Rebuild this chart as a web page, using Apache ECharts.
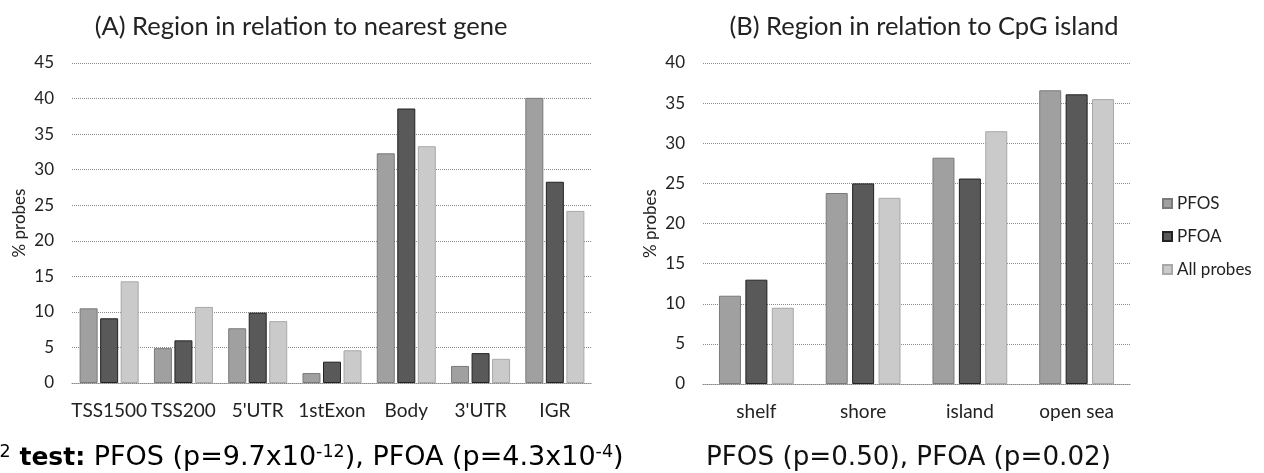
<!DOCTYPE html>
<html>
<head>
<meta charset="utf-8">
<script src="https://cdn.jsdelivr.net/npm/echarts@6/dist/echarts.min.js"></script>
<style>
html,body{margin:0;padding:0;background:#fff;}
#c{width:1264px;height:473px;}
</style>
</head>
<body>
<div id="c"></div>
<script>
// ---- data ----
const seriesNames = ['PFOS', 'PFOA', 'All probes'];

const geneCategories = ['TSS1500', 'TSS200', "5'UTR", '1stExon', 'Body', "3'UTR", 'IGR'];
const genePFOS = [10.5, 4.9, 7.7, 1.4, 32.3, 2.4, 40.1];
const genePFOA = [9.1, 6.0, 9.9, 3.0, 38.6, 4.2, 28.3];
const geneAll  = [14.3, 10.7, 8.7, 4.6, 33.3, 3.4, 24.2];

const cpgCategories = ['shelf', 'shore', 'island', 'open sea'];
const cpgPFOS = [11.0, 23.8, 28.2, 36.6];
const cpgPFOA = [13.0, 25.0, 25.6, 36.1];
const cpgAll  = [9.5, 23.2, 31.5, 35.5];

const titleA = '(A) Region in relation to nearest gene';
const titleB = '(B) Region in relation to CpG island';
const yName = '% probes';

// ---- styling ----
const FONT = 'Lato';
const colors = ['#a0a0a0', '#595959', '#cacaca'];
const borders = ['#7a7a7a', '#222222', '#a8a8a8'];

function makeSeries(name, idx, data, axisIdx, barWidth, gap) {
  return {
    name: name,
    type: 'bar',
    xAxisIndex: axisIdx,
    yAxisIndex: axisIdx,
    data: data,
    barWidth: barWidth,
    barGap: gap,
    itemStyle: { color: colors[idx], borderColor: borders[idx], borderWidth: 1 },
    emphasis: { disabled: true },
    animation: false
  };
}

function yAxisDef(gridIndex, max) {
  return {
    gridIndex: gridIndex,
    type: 'value',
    min: 0, max: max, interval: 5,
    name: yName,
    nameLocation: 'middle',
    nameGap: 44,
    nameTextStyle: { fontFamily: FONT, fontSize: 17, color: '#222' },
    axisLine: { show: false },
    axisTick: { show: false },
    axisLabel: { fontFamily: FONT, fontSize: 17, color: '#222', margin: 18 },
    splitLine: { lineStyle: { type: 'dotted', color: '#8a8a8a', width: 1 } }
  };
}

function xAxisDef(gridIndex, cats) {
  return {
    gridIndex: gridIndex,
    type: 'category',
    data: cats,
    axisTick: { show: false },
    axisLine: { lineStyle: { color: '#8a8a8a', type: 'dotted' } },
    axisLabel: { fontFamily: FONT, fontSize: 19, color: '#222', margin: 18, interval: 0 }
  };
}

const chart = echarts.init(document.getElementById('c'), null, { renderer: 'canvas' });

const option = {
  backgroundColor: '#ffffff',
  animation: false,
  title: [
    { text: titleA, left: 296, top: 9, textAlign: 'center',
      textStyle: { fontFamily: FONT, fontSize: 25.5, fontWeight: 'normal', color: '#222' } },
    { text: titleB, left: 919, top: 9, textAlign: 'center',
      textStyle: { fontFamily: FONT, fontSize: 25.5, fontWeight: 'normal', color: '#222' } }
  ],
  legend: {
    data: seriesNames,
    orient: 'vertical',
    left: 1157,
    top: 190,
    itemWidth: 9,
    itemHeight: 9,
    itemGap: 16,
    icon: 'rect',
    textStyle: { fontFamily: FONT, fontSize: 17, color: '#222' },
    selectedMode: false
  },
  grid: [
    { left: 72, right: 672, top: 63, bottom: 90 },
    { left: 703, right: 134, top: 63, bottom: 89 }
  ],
  xAxis: [xAxisDef(0, geneCategories), xAxisDef(1, cpgCategories)],
  yAxis: [yAxisDef(0, 45), yAxisDef(1, 40)],
  series: [
    makeSeries(seriesNames[0], 0, genePFOS, 0, 18, '14%'),
    makeSeries(seriesNames[1], 1, genePFOA, 0, 18, '14%'),
    makeSeries(seriesNames[2], 2, geneAll, 0, 18, '14%'),
    makeSeries(seriesNames[0], 0, cpgPFOS, 1, 22, '20%'),
    makeSeries(seriesNames[1], 1, cpgPFOA, 1, 22, '20%'),
    makeSeries(seriesNames[2], 2, cpgAll, 1, 22, '20%')
  ],
  graphic: [
    {
      type: 'text',
      left: -16,
      top: 443,
      style: {
        text: '{n|χ}{sup|2}{b| test:}{n| PFOS (p=9.7x10}{sup|-12}{n|), PFOA (p=4.3x10}{sup|-4}{n|)}',
        rich: {
          n: { fontFamily: 'DejaVu Sans', fontSize: 27, color: '#111', lineHeight: 30 },
          b: { fontFamily: 'DejaVu Sans', fontSize: 25, fontWeight: 'bold', color: '#111', lineHeight: 30 },
          sup: { fontFamily: 'DejaVu Sans', fontSize: 17.5, color: '#111', lineHeight: 18, verticalAlign: 'top' }
        }
      }
    },
    {
      type: 'text',
      left: 706,
      top: 443,
      style: {
        text: 'PFOS (p=0.50), PFOA (p=0.02)',
        fontFamily: 'DejaVu Sans', fontSize: 26.2, fill: '#111', lineHeight: 30
      }
    }
  ]
};
chart.setOption(option);
</script>
</body>
</html>
